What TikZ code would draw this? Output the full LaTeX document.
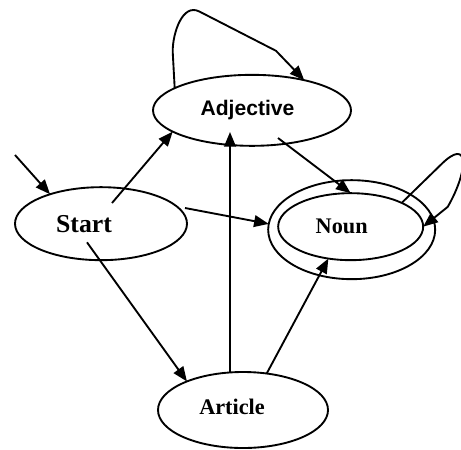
\documentclass[tikz,border=0pt]{standalone}
\usepackage{fontspec}
\setmainfont{Liberation Serif}
\newfontfamily\arialfont{Liberation Sans}
\usetikzlibrary{shapes.geometric,arrows.meta,positioning,calc}

\begin{document}
\begin{tikzpicture}[>={Triangle[length=4.4mm,width=3.5mm]},line width=1.6pt]
  \tikzstyle{state}=[ellipse,draw,outer sep=0pt,inner sep=2pt]
  \useasboundingbox (0,0) rectangle (13.83,-13.47);

  % states
  \node[state,minimum width=5.16cm,minimum height=2.19cm,font=\bfseries\fontsize{22}{26}\selectfont] (start) at (3.03,-6.71) {Start\hspace*{1.02cm}};
  \node[state,minimum width=5.94cm,minimum height=2.13cm,font=\arialfont\bfseries\fontsize{18}{22}\selectfont] (adj) at (7.56,-3.31) {Adjective\hspace*{0.27cm}};
  \node[state,minimum width=4.35cm,minimum height=2.01cm,font=\bfseries\fontsize{19}{23}\selectfont] (noun) at (10.52,-6.80) {Noun\hspace*{0.54cm}};
  \node[state,minimum width=5.01cm,minimum height=2.97cm] (ring) at ([shift={(0.03,-0.09)}]noun.center) {};
  \node[state,minimum width=5.10cm,minimum height=2.28cm,font=\bfseries\fontsize{19}{23}\selectfont] (article) at (7.29,-12.30) {\raisebox{0.18cm}{Article}\hspace*{0.66cm}};

  % transitions
  \coordinate (entry) at (0.45,-4.65);
  \draw[->] (entry) -- (start.150);
  \draw[->] ([shift={(0.33,0.62)}]start.center) -- (adj.195);
  \draw[->] ([shift={(2.52,0.47)}]start.center) -- (ring.176);
  \draw[->] ([shift={(-0.42,-0.56)}]start.center) -- (article.153);
  \draw[->] ([shift={(0.78,-0.83)}]adj.center) -- (noun.north);
  \draw[->] ([xshift=-0.39cm]article.north) -- ([shift={(-0.66,-0.65)}]adj.center);
  \draw[->] (article.57) -- (noun.235);

  % self loops
  \draw[->] (adj.164) -- ++(-0.06,1.1) to[out=90,in=153] ++(0.8,1.2) -- ++(2.3,-1.18) -- (adj.30);
  \draw[->] (noun.25) -- ++(1.17,1.14) to[out=45,in=60,looseness=2.5] ++(0.21,-1.26) -- (noun.east);
\end{tikzpicture}
\end{document}
